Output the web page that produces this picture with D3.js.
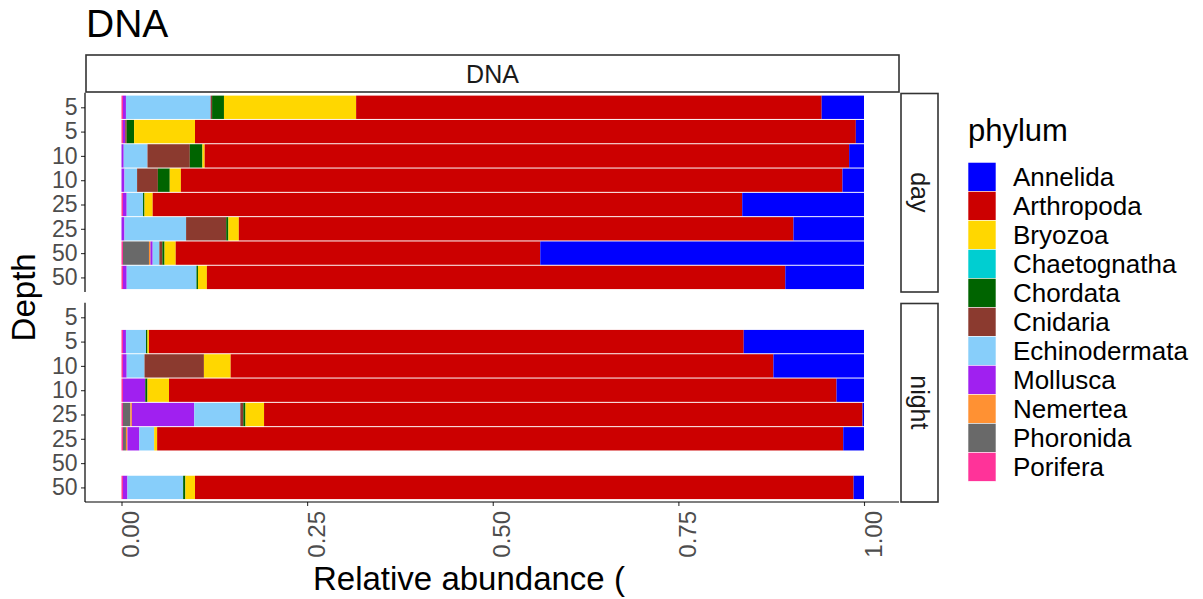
<!DOCTYPE html>
<html>
<head>
<meta charset="utf-8">
<script src="https://cdn.jsdelivr.net/npm/d3@7"></script>
<style>
  body { margin: 0; background: #fff; }
  svg text { font-family: "Liberation Sans", Arial, Helvetica, sans-serif; }
</style>
</head>
<body>
<svg id="chart" width="1203" height="599"></svg>
<script>
// ---- data ---------------------------------------------------------------
// 16 samples: 8 day rows then 8 night rows (null = no sample in that slot)
const sampleTimes  = ["day","day","day","day","day","day","day","day",
                      "night","night","night","night","night","night","night","night"];
const sampleDepths = ["5","5","10","10","25","25","50","50",
                      "5","5","10","10","25","25","50","50"];

const phyla = ["Annelida","Arthropoda","Bryozoa","Chaetognatha","Chordata","Cnidaria",
               "Echinodermata","Mollusca","Nemertea","Phoronida","Porifera"];
const phylumColors = ["#0000FF","#CC0000","#FFD700","#00CED1","#006400","#8B3A2F",
                      "#87CEFA","#A020F0","#FF9133","#696969","#FF3399"];

const annelida      = [0.057,0.011,0.020,0.029,0.164,0.095,0.436,0.106, null,0.162,0.122,0.037,0.002,0.028,null,0.014];
const arthropoda    = [0.627,0.890,0.868,0.891,0.794,0.747,0.491,0.779, null,0.801,0.731,0.899,0.806,0.924,null,0.887];
const bryozoa       = [0.178,0.082,0.003,0.015,0.011,0.014,0.015,0.012, null,0.002,0.036,0.029,0.025,0.004,null,0.013];
const chaetognatha  = [0,0,0,0,0,0,0,0, null,0,0,0,0,0,null,0];
const chordata      = [0.016,0.010,0.017,0.016,0.002,0.003,0.003,0.002, null,0.002,0,0.003,0.003,0,null,0.003];
const cnidaria      = [0.002,0.002,0.057,0.028,0,0.054,0.004,0, null,0,0.080,0,0.004,0,null,0];
const echinodermata = [0.114,0,0.032,0.017,0.022,0.083,0.009,0.094, null,0.027,0.024,0,0.062,0.020,null,0.075];
const mollusca      = [0.004,0.003,0.003,0.004,0.005,0.004,0.003,0.005, null,0.004,0.005,0.030,0.084,0.016,null,0.006];
const nemertea      = [0,0,0,0,0,0,0.002,0, null,0,0,0,0.002,0.002,null,0];
const phoronida     = [0,0,0,0,0,0,0.035,0, null,0,0,0,0.010,0.004,null,0];
const porifera      = [0.002,0.002,0,0,0.002,0,0.002,0.002, null,0.002,0.002,0.002,0.002,0.002,null,0.002];

const xTicks = [0, 0.25, 0.5, 0.75, 1];
const panels = ["day", "night"];

// ---- build table --------------------------------------------------------
const seriesByPhylum = {
  Annelida: annelida, Arthropoda: arthropoda, Bryozoa: bryozoa, Chaetognatha: chaetognatha,
  Chordata: chordata, Cnidaria: cnidaria, Echinodermata: echinodermata, Mollusca: mollusca,
  Nemertea: nemertea, Phoronida: phoronida, Porifera: porifera
};
const rows = sampleTimes.map((t, i) => {
  const r = { time: t, slot: i % 8, depth: sampleDepths[i], empty: annelida[i] === null };
  phyla.forEach(p => r[p] = seriesByPhylum[p][i] ?? 0);
  return r;
});

const color = d3.scaleOrdinal().domain(phyla).range(phylumColors);
// stacked from the left: last legend entry first
const stackKeys = phyla.slice().reverse();

// ---- layout -------------------------------------------------------------
const svg = d3.select("#chart");
const panelLeft = 85, panelRight = 899;
const panelBox = { day: [92.7, 292], night: [302.7, 502] };

const x = d3.scaleLinear().domain([0, 1]).range([121.5, 864]);

// title
svg.append("text").attr("x", 86).attr("y", 37)
  .attr("font-size", 39).attr("fill", "#000").text("DNA");

// top strip
svg.append("rect").attr("x", 86).attr("y", 55).attr("width", 813).attr("height", 37)
  .attr("fill", "#fff").attr("stroke", "#333").attr("stroke-width", 1.6);
svg.append("text").attr("x", (86 + 899) / 2).attr("y", 74).attr("dy", "0.35em")
  .attr("text-anchor", "middle").attr("font-size", 25).attr("fill", "#1A1A1A").text("DNA");

panels.forEach(panel => {
  const [y0, y1] = panelBox[panel];
  const y = d3.scalePoint().domain(d3.range(8)).range([y0, y1]).padding(0.6);
  const barH = y.step() * 0.96;

  const panelRows = rows.filter(r => r.time === panel && !r.empty);
  const stacked = d3.stack().keys(stackKeys)(panelRows);

  const g = svg.append("g");
  g.selectAll("g.layer").data(stacked).join("g")
    .attr("class", "layer")
    .attr("fill", d => color(d.key))
    .selectAll("rect").data(d => d).join("rect")
      .attr("x", d => x(d[0]))
      .attr("width", d => Math.max(0, x(d[1]) - x(d[0])))
      .attr("y", d => y(d.data.slot) - barH / 2)
      .attr("height", barH);

  // y axis
  const yAxis = svg.append("g").attr("transform", `translate(${panelLeft},0)`)
    .call(d3.axisLeft(y).tickSize(4).tickSizeOuter(0).tickPadding(3.5)
      .tickFormat(i => sampleDepths[i]));
  yAxis.select(".domain").remove();
  yAxis.selectAll(".tick line").attr("stroke", "#333").attr("stroke-width", 1.1);
  yAxis.selectAll(".tick text").attr("font-size", 23).attr("fill", "#4D4D4D")
    .style("font-family", '"Liberation Sans", Arial, sans-serif');
  svg.append("line").attr("x1", panelLeft).attr("x2", panelLeft)
    .attr("y1", y0).attr("y2", y1).attr("stroke", "#000").attr("stroke-width", 1.2);

  // right strip
  svg.append("rect").attr("x", 901).attr("y", y0 + 0.8).attr("width", 37).attr("height", y1 - y0 - 0.8)
    .attr("fill", "#fff").attr("stroke", "#333").attr("stroke-width", 1.6);
  svg.append("text")
    .attr("transform", `translate(919.5,${(y0 + y1) / 2}) rotate(90)`)
    .attr("text-anchor", "middle").attr("dy", "0.35em")
    .attr("font-size", 25).attr("fill", "#1A1A1A").text(panel);
});

// x axis (bottom panel only)
const xBase = panelBox.night[1];
const xAxis = svg.append("g").attr("transform", `translate(0,${xBase})`)
  .call(d3.axisBottom(x).tickValues(xTicks).tickSize(4).tickSizeOuter(0)
    .tickFormat(d3.format(".2f")));
xAxis.select(".domain").remove();
xAxis.selectAll(".tick line").attr("stroke", "#333").attr("stroke-width", 1.1);
xAxis.selectAll(".tick text")
  .attr("transform", "rotate(-90)")
  .attr("x", -9).attr("y", 17).attr("dy", 0)
  .attr("text-anchor", "end")
  .attr("font-size", 24).attr("fill", "#4D4D4D")
  .style("font-family", '"Liberation Sans", Arial, sans-serif');
svg.append("line").attr("x1", panelLeft).attr("x2", panelRight)
  .attr("y1", xBase).attr("y2", xBase).attr("stroke", "#000").attr("stroke-width", 1.2);

// axis titles
svg.append("text").attr("x", 313).attr("y", 590)
  .attr("font-size", 33).attr("fill", "#000").text("Relative abundance (");
svg.append("text")
  .attr("transform", `translate(35,${(panelBox.day[0] + panelBox.night[1]) / 2}) rotate(-90)`)
  .attr("text-anchor", "middle").attr("font-size", 33).attr("fill", "#000").text("Depth");

// legend
const legend = svg.append("g").attr("transform", "translate(968,0)");
legend.append("text").attr("x", 0).attr("y", 141).attr("font-size", 31).attr("fill", "#000").text("phylum");
const keyH = 29, keyTop = 162.3;
const item = legend.selectAll("g.item").data(phyla).join("g").attr("class", "item")
  .attr("transform", (d, i) => `translate(0,${keyTop + i * keyH})`);
item.append("rect").attr("width", 28).attr("height", keyH)
  .attr("fill", d => color(d)).attr("stroke", "#fff").attr("stroke-width", 0.6);
item.append("text").attr("x", 45).attr("y", keyH / 2).attr("dy", "0.36em")
  .attr("font-size", 26).attr("fill", "#000").text(d => d);
</script>
</body>
</html>
